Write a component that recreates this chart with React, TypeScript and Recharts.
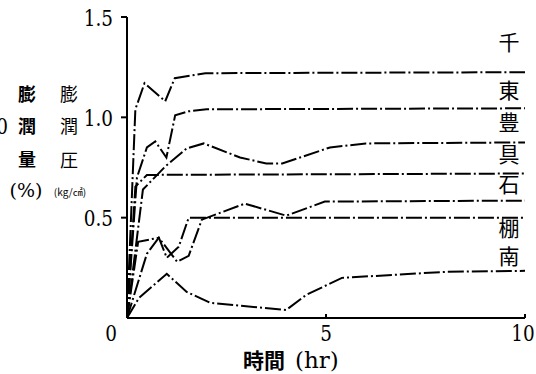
import React from "react";
import { LineChart, Line, XAxis, YAxis } from "recharts";

// Swelling pressure / swelling amount over time for seven clay samples.
type Pt = { t: number; v: number };
const mk = (rows: number[][]): Pt[] => rows.map(([t, v]) => ({ t, v }));

const hourTicks = [0, 5, 10];
const valueTicks = [0, 0.5, 1.0, 1.5];

const sen = mk([[0, 0], [0.21, 1.04], [0.44, 1.17], [0.96, 1.08], [1.2, 1.195], [1.97, 1.22], [10, 1.225]]);
const higashi = mk([[0, 0], [0.25, 0.7], [0.5, 0.85], [0.71, 0.88], [0.99, 0.8], [1.21, 1.01], [1.55, 1.03], [2.0, 1.04], [10, 1.045]]);
const toyo = mk([[0, 0], [0.4, 0.64], [0.96, 0.755], [1.5, 0.845], [1.93, 0.87], [2.84, 0.8], [3.5, 0.77], [3.9, 0.77], [4.35, 0.8], [5.1, 0.85], [6.0, 0.87], [10, 0.875]]);
const gu = mk([[0, 0], [0.21, 0.655], [0.5, 0.713], [10, 0.72]]);
const ishi = mk([[0, 0], [0.5, 0.32], [0.8, 0.4], [1.26, 0.28], [1.55, 0.31], [1.88, 0.49], [2.96, 0.57], [4.0, 0.51], [4.97, 0.58], [10, 0.585]]);
const tana = mk([[0, 0], [0.28, 0.38], [0.8, 0.4], [1.0, 0.3], [1.3, 0.355], [1.55, 0.5], [10, 0.5]]);
const minami = mk([[0, 0], [0.3, 0.1], [1.0, 0.22], [1.5, 0.13], [2.1, 0.075], [4.0, 0.04], [4.5, 0.115], [5.4, 0.2], [8.0, 0.23], [10, 0.235]]);

const seriesList = [sen, higashi, toyo, gu, ishi, tana, minami];
const seriesNames = ["千", "東", "豊", "具", "石", "棚", "南"];
const nameY = [43, 91, 123, 155, 185, 229, 257];

const W = 536;
const H = 374;
const CJK = "'Noto Sans CJK JP', sans-serif";
const SERIF = "'DejaVu Serif', serif";
const DASH = "16 3 2 3";

const serif = { fontFamily: SERIF };
const cjk = { fontFamily: CJK };

// Narrow serif numerals, drawn at (x, y) with the given anchor.
const Num = ({ x, y, anchor, children, size = 23 }: any) => (
  <text
    transform={`translate(${x},${y}) scale(0.8,1)`}
    textAnchor={anchor}
    style={serif}
    fontSize={size}
    fill="#000"
  >
    {children}
  </text>
);

const XTick = (props: any) => {
  const { x, y, payload } = props;
  const v = payload.value;
  return (
    <g>
      {v !== 0 && <line x1={x} y1={y} x2={x} y2={y - 4} stroke="#000" strokeWidth={2} />}
      <Num x={v === 0 ? x - 16 : v === 10 ? x - 2 : x} y={y + 23} anchor="middle">
        {String(v)}
      </Num>
    </g>
  );
};

const YTick = (props: any) => {
  const { x, y, payload } = props;
  const v = payload.value;
  if (v === 0) return <g />;
  return (
    <g>
      <line x1={x} y1={y} x2={x - 6} y2={y} stroke="#000" strokeWidth={2} />
      <Num x={x - 14} y={y + 8.5} anchor="end">
        {v.toFixed(1)}
      </Num>
    </g>
  );
};

export default function App() {
  return (
    <div style={{ position: "absolute", left: 0, top: 0, width: W, height: H, background: "#fff" }}>
      <LineChart width={W} height={H} margin={{ top: 17, right: 11, bottom: 26, left: 67 }}>
        <XAxis
          type="number"
          dataKey="t"
          domain={[0, 10]}
          ticks={hourTicks}
          tick={<XTick />}
          tickLine={false}
          tickSize={0}
          tickMargin={0}
          height={30}
          axisLine={{ stroke: "#000", strokeWidth: 2 }}
          allowDataOverflow
        />
        <YAxis
          type="number"
          domain={[0, 1.5]}
          ticks={valueTicks}
          tick={<YTick />}
          tickLine={false}
          tickSize={0}
          tickMargin={0}
          width={60}
          axisLine={{ stroke: "#000", strokeWidth: 2 }}
        />
        {seriesList.map((d, i) => (
          <Line
            key={seriesNames[i]}
            data={d}
            dataKey="v"
            type="linear"
            stroke="#000"
            strokeWidth={2}
            strokeDasharray={DASH}
            dot={false}
            activeDot={false}
            isAnimationActive={false}
          />
        ))}
      </LineChart>
      <svg width={W} height={H} style={{ position: "absolute", left: 0, top: 0, pointerEvents: "none" }}>
        {seriesNames.map((n, i) => (
          <text key={n} x={509} y={nameY[i] + 7} textAnchor="middle" style={cjk} fontSize={21} fill="#000">
            {n}
          </text>
        ))}
        <Num x={8} y={134} anchor="end">1.0</Num>
        {["膨", "潤", "量"].map((c, i) => (
          <text key={"a" + i} x={27} y={[95, 127, 160][i] + 6} textAnchor="middle" style={cjk} fontWeight={700} fontSize={18} fill="#000">
            {c}
          </text>
        ))}
        {["膨", "潤", "圧"].map((c, i) => (
          <text key={"b" + i} x={69} y={[95, 127, 161][i] + 6} textAnchor="middle" style={cjk} fontSize={18} fill="#000">
            {c}
          </text>
        ))}
        <text x={26} y={197} textAnchor="middle" style={serif} fontSize={19} fill="#000">(%)</text>
        <text x={70} y={196} textAnchor="middle" style={cjk} fontSize={10} fill="#000">(kg/㎠)</text>
        <text x={243} y={368} fontSize={21} fill="#000">
          <tspan style={cjk} fontWeight={700}>時間</tspan>
          <tspan style={serif} fontSize={23} dx={10}>(hr)</tspan>
        </text>
      </svg>
    </div>
  );
}
